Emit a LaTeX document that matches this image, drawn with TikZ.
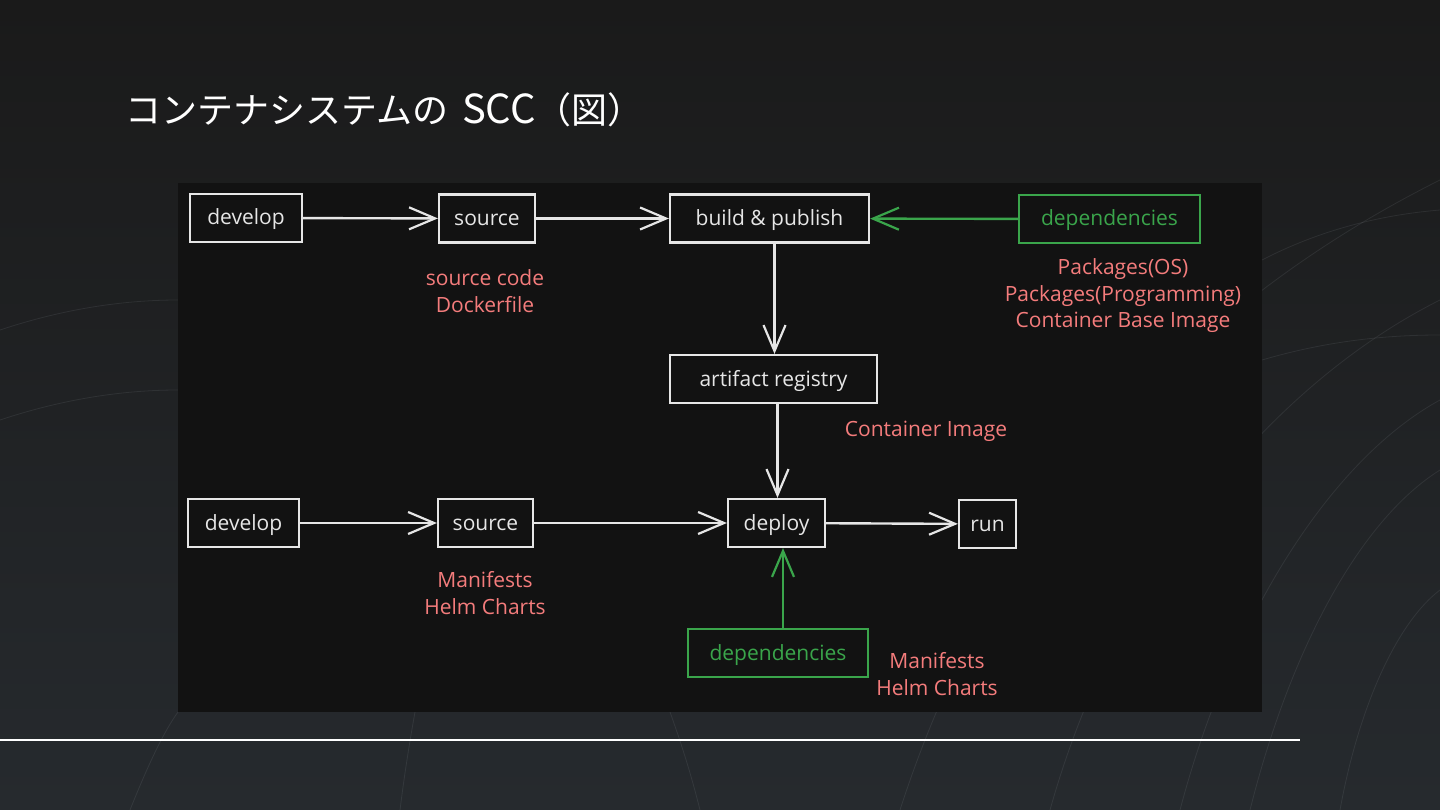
\documentclass[tikz,border=0pt]{standalone}
\usepackage{fontspec}
\setmainfont{Open Sans}
\newfontfamily\jpfont{Noto Sans CJK JP}
\usetikzlibrary{arrows.meta,calc}
\definecolor{bgtop}{HTML}{1A1A1A}
\definecolor{bgbot}{HTML}{262A2E}
\definecolor{panel}{HTML}{121212}
\definecolor{boxw}{HTML}{E6E6E6}
\definecolor{grn}{HTML}{3AA54B}
\definecolor{salmon}{HTML}{F47C7C}
\definecolor{streak}{HTML}{8A9096}
\tikzset{
  box/.style={draw=boxw, line width=2.2pt, fill=panel, text=boxw,
    font=\fontsize{21}{24}\selectfont, minimum height=48pt, inner sep=0pt,
    text height=16pt, text depth=2pt},
  gbox/.style={box, draw=grn, text=grn},
  lbl/.style={text=salmon, align=center, inner sep=0pt,
    font=\fontsize{21}{26.5}\selectfont},
  arr/.style={line width=2.4pt, draw=boxw,
    -{Straight Barb[length=26pt,width=22pt,line width=2.2pt]}},
  garr/.style={arr, draw=grn},
  strk/.style={draw=streak, line width=0.8pt, opacity=0.15}
}
\begin{document}
\begin{tikzpicture}[x=1pt,y=-1pt]
\useasboundingbox (0,0) rectangle (1440,810);
% background
\shade[top color=bgtop, bottom color=bgbot] (0,0) rectangle (1440,810);
% faint streaks
\draw[strk] (900,810) .. controls (1000,500) and (1200,300) .. (1440,180);
\draw[strk] (1050,810) .. controls (1120,560) and (1280,380) .. (1440,300);
\draw[strk] (1250,810) .. controls (1290,650) and (1360,520) .. (1440,470);
\draw[strk] (1340,810) .. controls (1360,700) and (1400,620) .. (1440,590);
\draw[strk] (1180,810) .. controls (1230,620) and (1330,460) .. (1440,400);
\draw[strk] (0,330) .. controls (60,310) and (120,300) .. (178,300);
\draw[strk] (0,420) .. controls (60,400) and (120,390) .. (178,390);
\draw[strk] (130,810) .. controls (150,760) and (165,730) .. (178,712);
\draw[strk] (400,810) .. controls (405,770) and (410,740) .. (415,712);
\draw[strk] (700,810) .. controls (690,770) and (680,740) .. (670,712);
\draw[strk] (1262,260) .. controls (1320,230) and (1380,215) .. (1440,210);
\draw[strk] (1262,360) .. controls (1330,340) and (1390,335) .. (1440,335);
% title
\node[anchor=west, text=white, inner sep=0pt, font=\jpfont\fontsize{36}{42}\selectfont]
  (title) at (125,110) {コンテナシステムの\hspace{14pt}{\fontsize{40}{42}\selectfont SCC}（図）};
% panel
\fill[panel] (178,183) rectangle (1262,712);
% rule
\draw[white, line width=2pt] (0,740) -- (1300,740);

% nodes
\node[box, minimum width=112pt] (dev1) at (246,218) {develop};
\node[box, minimum width=96pt] (src1) at (487,218.5) {source};
\node[box, minimum width=199pt] (build) at (769.5,218.5) {build \& publish};
\node[gbox, minimum width=181pt] (dep1) at (1109.5,219) {dependencies};
\node[box, minimum width=207pt] (art) at (773.5,379) {artifact registry};
\node[box, minimum width=111pt] (dev2) at (243.5,523) {develop};
\node[box, minimum width=95pt] (src2) at (485.5,523) {source};
\node[box, minimum width=97pt] (dep) at (776.5,523) {deploy};
\node[box, minimum width=57pt] (run) at (987.5,524) {run};
\node[gbox, minimum width=180pt] (dep2) at (778,653) {dependencies};

% labels
\node[lbl] (l1) at (485,291) {source code\\Dockerfile};
\node[lbl] (l2) at (1123,296) {Packages(OS)\\Packages(Programming)\\Container Base Image};
\node[lbl] (l3) at (926,431) {Container Image};
\node[lbl] (l4) at (485,593) {Manifests\\Helm Charts};
\node[lbl] (l5) at (937,674) {Manifests\\Helm Charts};

% connectors
\draw[arr] (dev1) -- (src1);
\draw[arr] (src1) -- (build);
\draw[garr] (dep1) -- (build);
\draw[arr] ([xshift=5pt]build.south) -- ([xshift=5pt]build.south |- art.north);
\draw[arr] ([xshift=4pt]art.south) -- ([xshift=4pt]art.south |- dep.north);
\draw[arr] (dev2) -- (src2);
\draw[arr] (src2) -- (dep);
\draw[arr] (dep) -- (run);
\draw[garr] ([xshift=5pt]dep2.north) -- ([xshift=5pt]dep2.north |- dep.south);
\end{tikzpicture}
\end{document}
